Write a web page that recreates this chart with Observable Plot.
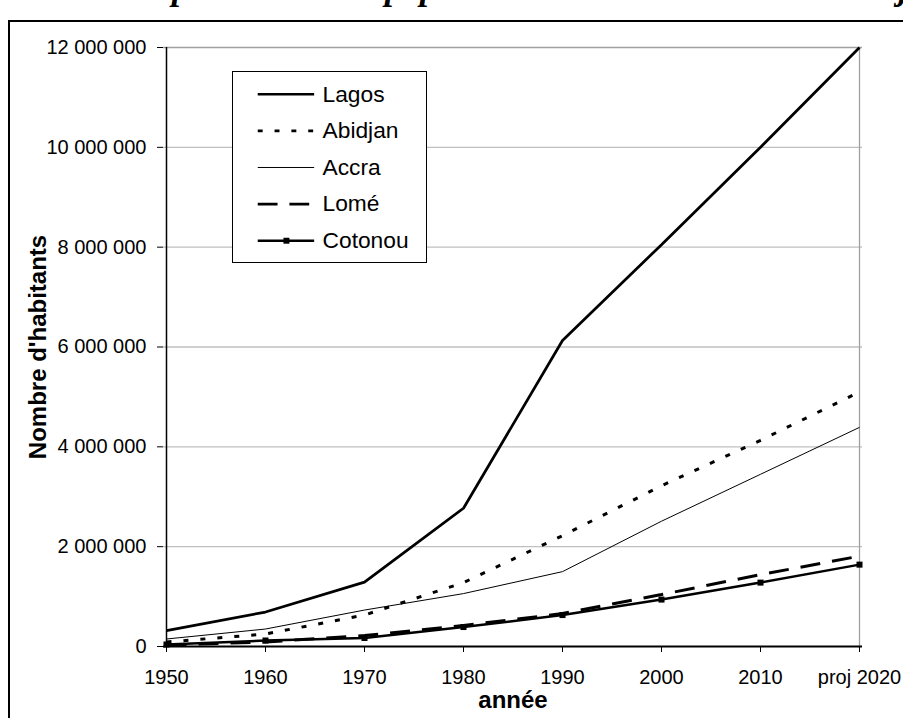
<!DOCTYPE html>
<html>
<head>
<meta charset="utf-8">
<script src="https://cdn.jsdelivr.net/npm/d3@7"></script>
<script src="https://cdn.jsdelivr.net/npm/@observablehq/plot@0.6"></script>
<style>
  html, body { margin: 0; padding: 0; background: #fff; }
  #page { position: relative; width: 903px; height: 718px; overflow: hidden; background: #fff; font-family: "Liberation Sans", Arial, sans-serif; }
  #title { position: absolute; left: 0; top: 0; }
  #title text { font-family: "Liberation Serif", "Times New Roman", serif; font-weight: bold; font-style: italic; font-size: 35px; fill: #000; }
  #frame { position: absolute; left: 8px; top: 20px; width: 1200px; height: 1200px; border: 2px solid #000; box-sizing: border-box; }
  #chart { position: absolute; left: 0; top: 0; }
  #legend { position: absolute; left: 232px; top: 71px; width: 195px; height: 192px; border: 1px solid #000; box-sizing: border-box; background: #fff; }
  #legend svg { position: absolute; left: -1px; top: -1px; }
</style>
</head>
<body>
<div id="page">
  <svg id="title" width="903" height="20"><text x="104" y="-1">Comparaison de la population de Lomé et des villes majeures du golfe de Guinée</text></svg>
  <div id="frame"></div>
  <div id="chart"></div>
  <div id="legend"></div>
</div>
<script>
// ---- data ----
const years = ["1950", "1960", "1970", "1980", "1990", "2000", "2010", "proj 2020"];
const cities = ["Lagos", "Abidjan", "Accra", "Lomé", "Cotonou"];
const lagos   = [320000, 690000, 1290000, 2770000, 6130000, 8050000, 10000000, 12000000];
const abidjan = [90000, 250000, 630000, 1280000, 2220000, 3220000, 4130000, 5100000];
const accra   = [150000, 350000, 730000, 1060000, 1500000, 2510000, 3450000, 4390000];
const lome    = [30000, 90000, 220000, 420000, 660000, 1040000, 1440000, 1810000];
const cotonou = [40000, 120000, 170000, 390000, 630000, 940000, 1280000, 1640000];
const yTicks = [0, 2000000, 4000000, 6000000, 8000000, 10000000, 12000000];
const yLabel = "Nombre d'habitants";
const xLabel = "année";

const seriesValues = {Lagos: lagos, Abidjan: abidjan, Accra: accra, "Lomé": lome, Cotonou: cotonou};
const rows = cities.flatMap(c => years.map((y, i) => ({city: c, year: y, value: seriesValues[c][i]})));

const styles = {
  Lagos:   {strokeWidth: 2.75, strokeDasharray: null},
  Abidjan: {strokeWidth: 3, strokeDasharray: "5,12"},
  Accra:   {strokeWidth: 1, strokeDasharray: null},
  "Lomé":  {strokeWidth: 3, strokeDasharray: "20,12"},
  Cotonou: {strokeWidth: 2.5, strokeDasharray: null}
};

const fmt = d => d3.format(",")(d).replace(/,/g, " ");
const font = "'Liberation Sans', Arial, sans-serif";

const lineMarks = cities.map(c => Plot.line(rows.filter(r => r.city === c), {
  x: "year", y: "value", stroke: "#000",
  strokeWidth: styles[c].strokeWidth,
  strokeDasharray: styles[c].strokeDasharray || undefined,
  strokeLinecap: "butt", strokeLinejoin: "miter"
}));

const chart = Plot.plot({
  width: 903, height: 718,
  marginLeft: 163, marginRight: 41, marginTop: 47, marginBottom: 72,
  style: {fontFamily: font, background: "transparent", color: "#000"},
  x: {type: "point", domain: years, padding: 0},
  y: {domain: [0, 12000000]},
  marks: [
    Plot.gridY(yTicks.filter(t => t > 0 && t < 12000000), {stroke: "#c0c0c0", strokeOpacity: 1, strokeWidth: 1.3}),
    Plot.ruleY([12000000], {stroke: "#a0a0a0", strokeWidth: 1.3}),
    Plot.ruleX([years[years.length - 1]], {stroke: "#a0a0a0", strokeWidth: 1.3}),
    ...lineMarks,
    Plot.dot(rows.filter(r => r.city === "Cotonou"), {x: "year", y: "value", symbol: "square", r: 3.4, fill: "#000", stroke: "none"}),
    Plot.ruleX([years[0]], {stroke: "#000", strokeWidth: 1.5}),
    Plot.ruleY([0], {stroke: "#000", strokeWidth: 2}),
    Plot.axisY({ticks: yTicks, tickFormat: fmt, tickSize: 6, tickPadding: 11, fontSize: 20, label: null}),
    Plot.axisX({tickSize: 6, tickPadding: 17, fontSize: 20, label: null}),
    Plot.text([yLabel], {frameAnchor: "left", dx: -125, rotate: -90, fontSize: 24, fontWeight: "bold", lineAnchor: "middle", textAnchor: "middle"}),
    Plot.text([xLabel], {frameAnchor: "bottom", dy: 54, fontSize: 24, fontWeight: "bold", lineAnchor: "middle", textAnchor: "middle"})
  ]
});
document.getElementById("chart").appendChild(chart);

// ---- legend ----
const legendRows = cities.map(c => ({city: c}));
const legendMarks = cities.map(c => Plot.ruleY([c], {
  y: d => d, x1: 0, x2: 1, stroke: "#000",
  strokeWidth: styles[c].strokeWidth,
  strokeDasharray: styles[c].strokeDasharray || undefined,
  strokeLinecap: "butt"
}));
const legend = Plot.plot({
  width: 195, height: 192,
  marginLeft: 26, marginRight: 112, marginTop: 21, marginBottom: 20,
  style: {fontFamily: font, background: "transparent", color: "#000"},
  x: {domain: [0, 1], axis: null},
  y: {type: "point", domain: cities, padding: 0, axis: null},
  marks: [
    ...legendMarks,
    Plot.dot(["Cotonou"], {x: () => 0.5, y: d => d, symbol: "square", r: 3.4, fill: "#000"}),
    Plot.text(legendRows, {x: () => 1, y: "city", text: "city", dx: 8, textAnchor: "start", fontSize: 23, lineAnchor: "middle"})
  ]
});
document.getElementById("legend").appendChild(legend);
</script>
</body>
</html>
